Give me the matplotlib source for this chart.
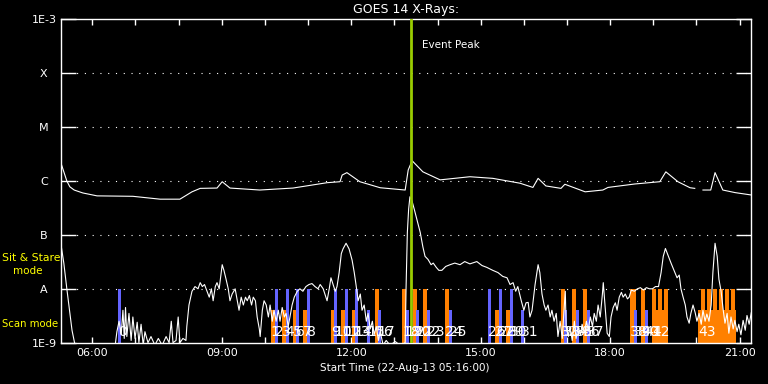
import numpy as np
import matplotlib
matplotlib.use("Agg")
import matplotlib.pyplot as plt
from matplotlib.ticker import FixedLocator, FixedFormatter

# Time axis: hours of 22-Aug-2013, plot runs 05:16 -> 21:16
t_start = 5 + 16 / 60
t_end = 21 + 16 / 60
event_peak = "13:23"

# GOES 14 long channel (1-8 A), W/m^2
long_t = [5.27, 5.41, 5.48, 5.58, 5.78, 6.11, 6.94, 7.57, 8.03, 8.31, 8.50, 8.89, 9.01,
          9.19, 9.88, 10.65, 11.44, 11.74, 11.79, 11.90, 12.20, 12.67, 13.25, 13.32,
          13.41, 13.66, 14.06, 14.75, 15.28, 15.91, 16.21, 16.33, 16.51, 16.86, 16.95,
          17.42, 17.83, 17.95, 18.57, 19.15, 19.29, 19.57, 19.85, 19.96, 20.05, 20.15,
          20.33, 20.43, 20.61, 20.89, 21.27]
long_flux = [2.2e-6, 1.0e-6, 7.8e-7, 6.8e-7, 6.0e-7, 5.3e-7, 5.2e-7, 4.6e-7, 4.6e-7, 6.3e-7,
             7.3e-7, 7.4e-7, 9.7e-7, 7.4e-7, 6.8e-7, 7.4e-7, 9.3e-7, 9.7e-7, 1.29e-6, 1.43e-6,
             9.7e-7, 7.5e-7, 6.8e-7, 1.6e-6, 2.38e-6, 1.48e-6, 1.05e-6, 1.2e-6, 1.12e-6, 9.1e-7,
             7.6e-7, 1.12e-6, 8.1e-7, 7.3e-7, 8.7e-7, 6.3e-7, 6.8e-7, 7.6e-7, 8.8e-7, 9.7e-7,
             1.48e-6, 9.7e-7, 7.5e-7, 7.3e-7, np.nan, 6.8e-7, 6.8e-7, 1.43e-6, 6.8e-7, 6.1e-7,
             5.5e-7]

# GOES 14 short channel (0.5-4 A), W/m^2
short_t = [5.27, 5.34, 5.41, 5.48, 5.53, 5.60, 6.53, 6.57, 6.62, 6.67, 6.71, 6.74, 6.77,
           6.80, 6.85, 6.90, 6.94, 6.99, 7.04, 7.08, 7.13, 7.18, 7.22, 7.29, 7.36, 7.45,
           7.53, 7.62, 7.71, 7.78, 7.83, 7.87, 7.94, 7.99, 8.03, 8.10, 8.17, 8.19, 8.24,
           8.31, 8.38, 8.45, 8.50, 8.55, 8.60, 8.66, 8.71, 8.76, 8.80, 8.85, 8.89, 8.94,
           9.01, 9.05, 9.10, 9.15, 9.19, 9.24, 9.31, 9.36, 9.40, 9.45, 9.50, 9.55, 9.59,
           9.64, 9.69, 9.73, 9.78, 9.82, 9.87, 9.89, 9.94, 9.98, 10.03, 10.08, 10.12,
           10.17, 10.21, 10.26, 10.31, 10.35, 10.40, 10.45, 10.49, 10.54, 10.58, 10.63,
           10.68, 10.75, 10.81, 10.88, 10.95, 11.02, 11.09, 11.16, 11.23, 11.28, 11.35,
           11.39, 11.44, 11.49, 11.53, 11.58, 11.63, 11.67, 11.72, 11.77, 11.81, 11.88,
           11.95, 12.02, 12.07, 12.11, 12.16, 12.21, 12.25, 12.30, 12.35, 12.39, 12.44,
           12.49, 12.53, 12.58, 12.63, 12.67, 12.74, 12.81, 12.90, 13.02, 13.13, 13.25,
           13.27, 13.30, 13.33, 13.36, 13.41, 13.46, 13.53, 13.60, 13.66, 13.71, 13.78,
           13.85, 13.90, 13.97, 14.03, 14.10, 14.19, 14.29, 14.40, 14.52, 14.63, 14.75,
           14.91, 15.03, 15.14, 15.28, 15.40, 15.51, 15.61, 15.68, 15.75, 15.81, 15.86,
           15.94, 16.00, 16.05, 16.10, 16.14, 16.19, 16.26, 16.33, 16.37, 16.42, 16.47,
           16.51, 16.56, 16.61, 16.65, 16.70, 16.75, 16.79, 16.84, 16.89, 16.93, 16.96,
           16.98, 17.03, 17.07, 17.12, 17.17, 17.21, 17.26, 17.31, 17.35, 17.40, 17.45,
           17.49, 17.54, 17.59, 17.63, 17.68, 17.72, 17.77, 17.82, 17.84, 17.89, 17.93,
           17.98, 18.02, 18.07, 18.12, 18.16, 18.21, 18.26, 18.30, 18.35, 18.40, 18.44,
           18.49, 18.56, 18.63, 18.70, 18.77, 18.84, 18.91, 18.98, 19.05, 19.12, 19.18,
           19.23, 19.28, 19.35, 19.41, 19.48, 19.55, 19.60, 19.64, 19.69, 19.74, 19.78,
           19.83, 19.87, 19.92, 19.97, 20.01, 20.06, 20.11, 20.15, 20.20, 20.24, 20.29,
           20.34, 20.38, 20.43, 20.48, 20.52, 20.57, 20.62, 20.66, 20.71, 20.75, 20.80,
           20.85, 20.89, 20.94, 20.98, 21.03, 21.08, 21.13, 21.17, 21.22, 21.27]
short_flux = [7.0e-8, 3.0e-8, 1.0e-8, 3.5e-9, 1.7e-9, 9e-10, 9e-10, 1.6e-9, 2.5e-9, 1.4e-9,
              4.0e-9, 1.2e-9, 4.5e-9, 1.3e-9, 3.5e-9, 1.1e-9, 3.0e-9, 1.2e-9, 2.4e-9, 1.0e-9,
              2.2e-9, 9e-10, 1.6e-9, 1.0e-9, 1.3e-9, 9e-10, 1.2e-9, 9e-10, 1.3e-9, 1.0e-9,
              2.5e-9, 1.0e-9, 1.1e-9, 3.0e-9, 1.0e-9, 1.2e-9, 1.1e-9, 2.0e-9, 5.0e-9, 9.0e-9,
              1.1e-8, 1.0e-8, 1.3e-8, 1.1e-8, 1.2e-8, 9.0e-9, 7.0e-9, 1.0e-8, 6.0e-9, 1.1e-8,
              1.3e-8, 1.0e-8, 2.8e-8, 2.2e-8, 1.5e-8, 1.0e-8, 6.0e-9, 8.0e-9, 1.0e-8, 6.0e-9,
              4.0e-9, 7.0e-9, 5.0e-9, 7.0e-9, 6.0e-9, 7.5e-9, 5.0e-9, 7.0e-9, 6.0e-9, 3.0e-9,
              1.8e-9, 1.3e-9, 4.0e-9, 6.0e-9, 5.0e-9, 3.0e-9, 5.0e-9, 2.5e-9, 4.0e-9, 2.5e-9,
              4.0e-9, 2.5e-9, 4.5e-9, 3.0e-9, 3.5e-9, 2.0e-9, 3.0e-9, 5.0e-9, 7.0e-9, 9.0e-9,
              1.0e-8, 9.0e-9, 1.1e-8, 1.2e-8, 1.25e-8, 1.1e-8, 1.0e-8, 1.2e-8, 1.0e-8, 8.0e-9,
              6.0e-9, 1.0e-8, 1.6e-8, 1.2e-8, 9.0e-9, 1.1e-8, 2.0e-8, 4.5e-8, 5.5e-8, 7.0e-8,
              5.5e-8, 3.4e-8, 2.0e-8, 1.2e-8, 6.0e-9, 8.0e-9, 4.0e-9, 5.0e-9, 2.5e-9, 3.5e-9,
              1.8e-9, 2.5e-9, 1.4e-9, 2.0e-9, 1.1e-9, 1.6e-9, 9e-10, 1.1e-9, 9e-10, 1.05e-9,
              9e-10, 1.0e-9, 1.0e-8, 1.1e-7, 3.0e-7, 5.1e-7, 4.2e-7, 3.0e-7, 1.8e-7, 1.1e-7,
              6.0e-8, 4.0e-8, 3.5e-8, 2.8e-8, 3.0e-8, 2.5e-8, 2.2e-8, 2.2e-8, 2.6e-8, 2.8e-8,
              3.0e-8, 2.8e-8, 3.2e-8, 2.9e-8, 3.2e-8, 2.7e-8, 2.5e-8, 2.2e-8, 2.0e-8, 1.7e-8,
              1.6e-8, 1.2e-8, 1.3e-8, 9.0e-9, 1.1e-8, 6.0e-9, 4.0e-9, 5.5e-9, 5.6e-9, 3.0e-9,
              4.0e-9, 1.2e-8, 2.8e-8, 2.0e-8, 8.0e-9, 5.0e-9, 4.0e-9, 5.0e-9, 3.0e-9, 4.0e-9,
              2.5e-9, 3.5e-9, 1.3e-9, 2.5e-9, 1.2e-9, 4.0e-9, 9.0e-9, 2.0e-9, 1.3e-9, 2.0e-9,
              1.1e-9, 2.5e-9, 1.2e-9, 2.0e-9, 1.4e-9, 2.2e-9, 1.5e-9, 2.5e-9, 1.7e-9, 3.0e-9,
              2.0e-9, 3.5e-9, 2.5e-9, 5.0e-9, 3.0e-9, 8.0e-9, 1.3e-8, 4.0e-9, 1.5e-9, 1.3e-9,
              3.0e-9, 4.5e-9, 5.5e-9, 4.0e-9, 7.0e-9, 8.6e-9, 7.0e-9, 8.0e-9, 6.5e-9, 7.0e-9,
              9.5e-9, 9.0e-9, 1.0e-8, 1.05e-8, 9.5e-9, 1.05e-8, 1.0e-8, 1.0e-8, 1.1e-8, 1.1e-8,
              2.0e-8, 4.0e-8, 5.6e-8, 4.0e-8, 3.0e-8, 2.2e-8, 1.6e-8, 1.8e-8, 1.0e-8, 7.0e-9,
              5.0e-9, 3.0e-9, 2.3e-9, 3.5e-9, 5.0e-9, 3.6e-9, 2.5e-9, 3.5e-9, 2.2e-9, 4.0e-9,
              2.5e-9, 3.4e-9, 2.5e-9, 5.0e-9, 2.0e-8, 7.0e-8, 4.0e-8, 1.5e-8, 9.0e-9, 4.0e-9,
              2.3e-9, 3.5e-9, 1.5e-9, 3.0e-9, 1.8e-9, 2.6e-9, 1.6e-9, 2.2e-9, 1.4e-9, 2.6e-9,
              1.7e-9, 3.2e-9, 2.2e-9, 3.6e-9]

# Observations: start time, duration (min), instrument colour group, mode
obs_start = ["06:36", "10:08", "10:14", "10:24", "10:29", "10:39", "10:43", "10:53", "10:59",
             "11:32", "11:36", "11:46", "11:51", "12:01", "12:05", "12:22", "12:33", "12:37",
             "13:11", "13:16", "13:26", "13:30", "13:40", "13:45", "14:10", "14:16",
             "15:10", "15:20", "15:25", "15:35", "15:41", "15:56",
             "16:52", "16:56", "17:07", "17:13", "17:22", "17:28",
             "18:28", "18:33", "18:43", "18:48", "18:58", "20:02"]
obs_dur = [4, 5.5, 4, 5.5, 4, 5.5, 4, 5.5, 4,
           5.5, 4, 5.5, 4, 5.5, 4, 4, 5.5, 4,
           5.5, 4, 5.5, 4, 5.5, 4, 5.5, 4,
           4, 5.5, 4, 5.5, 4, 4,
           5.5, 4, 5.5, 4, 5.5, 4,
           8, 4, 5.5, 4, 22, 53]
obs_group = ["b", "o", "b", "o", "b", "o", "b", "o", "b",
             "o", "b", "o", "b", "o", "b", "b", "o", "b",
             "o", "b", "o", "b", "o", "b", "o", "b",
             "b", "o", "b", "o", "b", "b",
             "o", "b", "o", "b", "o", "b",
             "o", "b", "o", "b", "o", "o"]
obs_mode = ["sit", "scan", "sit", "scan", "sit", "scan", "sit", "scan", "sit",
            "scan", "sit", "scan", "sit", "scan", "sit", "scan", "sit", "scan",
            "sit", "scan", "sit", "scan", "sit", "scan", "sit", "scan",
            "sit", "scan", "sit", "scan", "sit", "scan",
            "sit", "scan", "sit", "scan", "sit", "scan",
            "sit", "scan", "sit", "scan", "scan", "scan"]
# sit & stare pieces inside the two long runs (obs 42 and 43)
sub_start = ["18:58", "19:07", "19:15", "20:06", "20:15", "20:23", "20:31", "20:40", "20:48"]
sub_dur = [5.5, 5.5, 5.5, 5.5, 5.5, 5.5, 5.5, 5.5, 5.5]

y_ticks = [1e-9, 1e-8, 1e-7, 1e-6, 1e-5, 1e-4, 1e-3]
y_labels = ["1E-9", "A", "B", "C", "M", "X", "1E-3"]
x_hours = list(range(6, 22))


def hours(s):
    h, m = s.split(":")
    return int(h) + int(m) / 60


colours = {"b": "#6464ff", "o": "#ff8000"}
tops = {"sit": 1e-8, "scan": 4e-9}
ybot = 1e-9

fig = plt.figure(figsize=(7.68, 3.84), dpi=100, facecolor="black")
ax = fig.add_axes([60.65 / 768, 41.3 / 384, 690.5 / 768, 323.4 / 384], facecolor="black")
ax.set_yscale("log")
ax.set_xlim(t_start, t_end)
ax.set_ylim(1e-9, 1e-3)

# dotted decade lines
for y in y_ticks[1:-1]:
    ax.axhline(y, color="white", lw=0.8, ls=(0, (1, 6)), zorder=1)

# observation bars
for s, d, g, m in zip(obs_start, obs_dur, obs_group, obs_mode):
    ax.bar(hours(s), tops[m] - ybot, bottom=ybot, width=d / 60, align="edge",
           color=colours[g], lw=0, zorder=2)
for s, d in zip(sub_start, sub_dur):
    ax.bar(hours(s), tops["sit"] - ybot, bottom=ybot, width=d / 60, align="edge",
           color=colours["o"], lw=0, zorder=2)

# flux curves
ax.plot(long_t, long_flux, color="white", lw=0.8, zorder=3)
ax.plot(short_t, short_flux, color="white", lw=0.8, zorder=3)

# observation numbers (they pile up on each other, as in the original)
for i, s in enumerate(obs_start):
    ax.text(hours(s), 1.55e-9, str(i), color="white", fontsize=10, ha="left",
            va="center", zorder=4)

# event peak
ax.axvline(hours(event_peak), color="#99cc00", lw=2, zorder=3)
ax.text(hours(event_peak) + 0.25, 3.3e-4, "Event Peak", color="white", fontsize=7.5,
        va="center", ha="left")

for sp in ax.spines.values():
    sp.set_color("white")
    sp.set_linewidth(1)

ax.yaxis.set_major_locator(FixedLocator(y_ticks))
ax.yaxis.set_major_formatter(FixedFormatter(y_labels))
ax.yaxis.set_minor_locator(FixedLocator([]))
ax.tick_params(axis="y", which="major", direction="in", length=11, width=1, color="white",
               labelcolor="white", labelsize=8, pad=12, left=True, right=True)
for lab in ax.get_yticklabels():
    lab.set_horizontalalignment("center")

ax.xaxis.set_major_locator(FixedLocator(x_hours))
ax.xaxis.set_major_formatter(FixedFormatter(
    ["%02d:00" % h if h % 3 == 0 else "" for h in x_hours]))
ax.tick_params(axis="x", which="major", direction="in", length=4.5, width=1, color="white",
               labelcolor="white", labelsize=8, pad=4, top=True, bottom=True)

fig.text(406 / 768, 1 - 10 / 384, "GOES 14 X-Rays:", color="white", fontsize=9,
         ha="center", va="center")
fig.text(405 / 768, 1 - 368 / 384, "Start Time (22-Aug-13 05:16:00)", color="white",
         fontsize=7.5, ha="center", va="center")
fig.text(2 / 768, 1 - 258 / 384, "Sit & Stare", color="yellow", fontsize=7.8,
         ha="left", va="center")
fig.text(13 / 768, 1 - 271 / 384, "mode", color="yellow", fontsize=7.5,
         ha="left", va="center")
fig.text(2 / 768, 1 - 324 / 384, "Scan mode", color="yellow", fontsize=7.3,
         ha="left", va="center")

fig.savefig("out.png", dpi=100, facecolor="black")
